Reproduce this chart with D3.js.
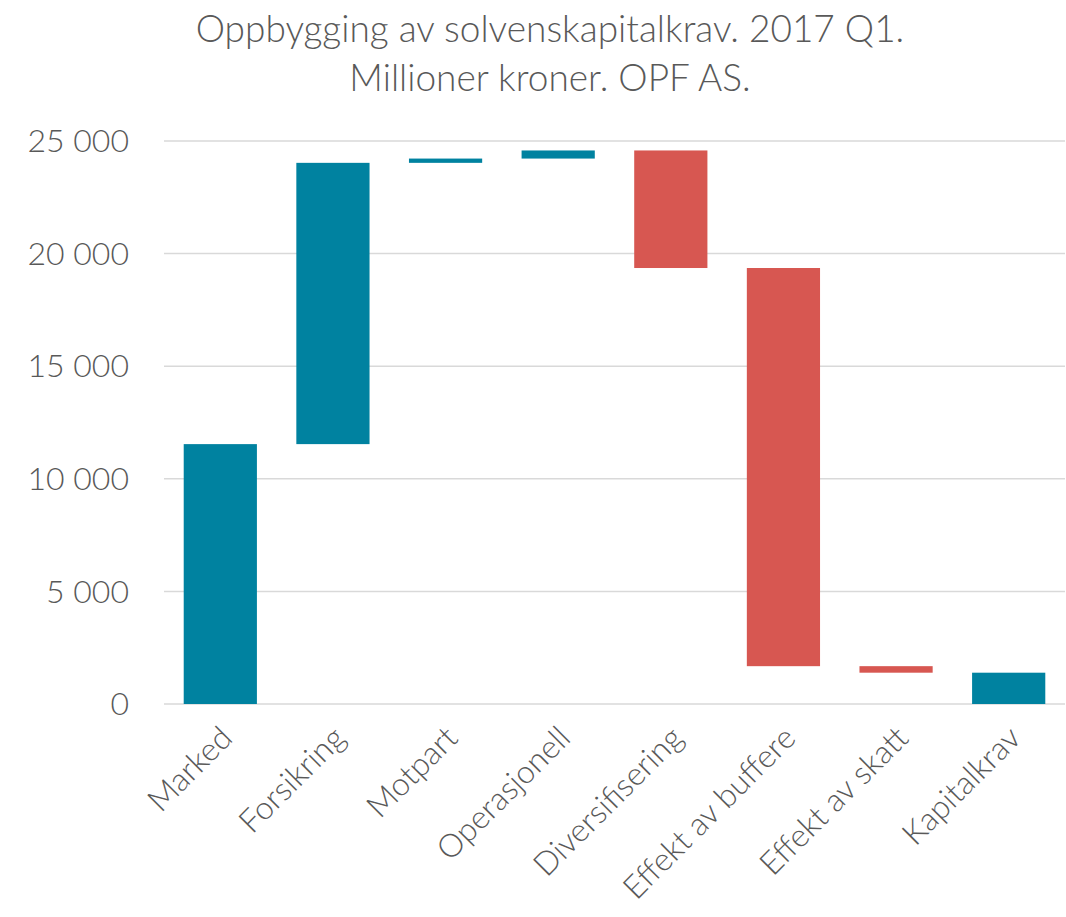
<!DOCTYPE html>
<html>
<head>
<meta charset="utf-8">
<script src="https://cdn.jsdelivr.net/npm/d3@7"></script>
<style>
  body { margin: 0; background: #fff; }
  text { font-family: Lato, "Open Sans", sans-serif; font-weight: 300; fill: #595959; }
</style>
</head>
<body>
<svg id="chart"></svg>
<script>
// Categories and values (millioner kroner)
var categories = ["Marked", "Forsikring", "Motpart", "Operasjonell", "Diversifisering",
                  "Effekt av buffere", "Effekt av skatt", "Kapitalkrav"];
var changes = [11540, 12490, 190, 360, -5220, -17680, -290, 1390];
var isTotal = [false, false, false, false, false, false, false, true];
var yTicks = [0, 5000, 10000, 15000, 20000, 25000];
var titleLines = ["Oppbygging av solvenskapitalkrav. 2017 Q1.", "Millioner kroner. OPF AS."];

var width = 1066, height = 917;
var margin = {top: 141, right: 1, bottom: 213, left: 164};

var svg = d3.select("#chart")
    .attr("width", width)
    .attr("height", height);

// Build waterfall steps
var running = 0;
var steps = categories.map(function(c, i) {
  var start, end;
  if (isTotal[i]) { start = 0; end = changes[i]; running = end; }
  else { start = running; end = running + changes[i]; running = end; }
  return {name: c, start: start, end: end, up: changes[i] >= 0};
});

var x = d3.scaleBand()
    .domain(categories)
    .range([margin.left, width - margin.right])
    .paddingInner(0.35)
    .paddingOuter(0.175);

var y = d3.scaleLinear()
    .domain([0, 25000])
    .range([height - margin.bottom, margin.top]);

// Gridlines
svg.append("g")
  .selectAll("line")
  .data(yTicks)
  .enter().append("line")
    .attr("x1", margin.left)
    .attr("x2", width - margin.right)
    .attr("y1", d => y(d))
    .attr("y2", d => y(d))
    .attr("stroke", "#d9d9d9")
    .attr("stroke-width", 1.5);

// Y axis labels
svg.append("g")
  .selectAll("text")
  .data(yTicks)
  .enter().append("text")
    .attr("x", 129)
    .attr("y", d => y(d))
    .attr("dy", "0.35em")
    .attr("text-anchor", "end")
    .attr("font-size", 32)
    .text(d => d3.format(",")(d).replace(/,/g, " "));

// Bars
svg.append("g")
  .selectAll("rect")
  .data(steps)
  .enter().append("rect")
    .attr("x", d => x(d.name))
    .attr("width", x.bandwidth())
    .attr("y", d => y(Math.max(d.start, d.end)))
    .attr("height", d => Math.abs(y(d.start) - y(d.end)))
    .attr("fill", d => d.up ? "#0082a0" : "#d75751");

// X labels, rotated
svg.append("g")
  .selectAll("text")
  .data(categories)
  .enter().append("text")
    .attr("transform", d => "translate(" + (x(d) + x.bandwidth() / 2 + 14) + "," + (y(0) + 36) + ") rotate(-45)")
    .attr("text-anchor", "end")
    .attr("font-size", 32)
    .text(d => d);

// Title
svg.append("g")
  .selectAll("text")
  .data(titleLines)
  .enter().append("text")
    .attr("x", 550)
    .attr("y", (d, i) => 42 + i * 49)
    .attr("text-anchor", "middle")
    .attr("font-size", 37)
    .text(d => d);
</script>
</body>
</html>
